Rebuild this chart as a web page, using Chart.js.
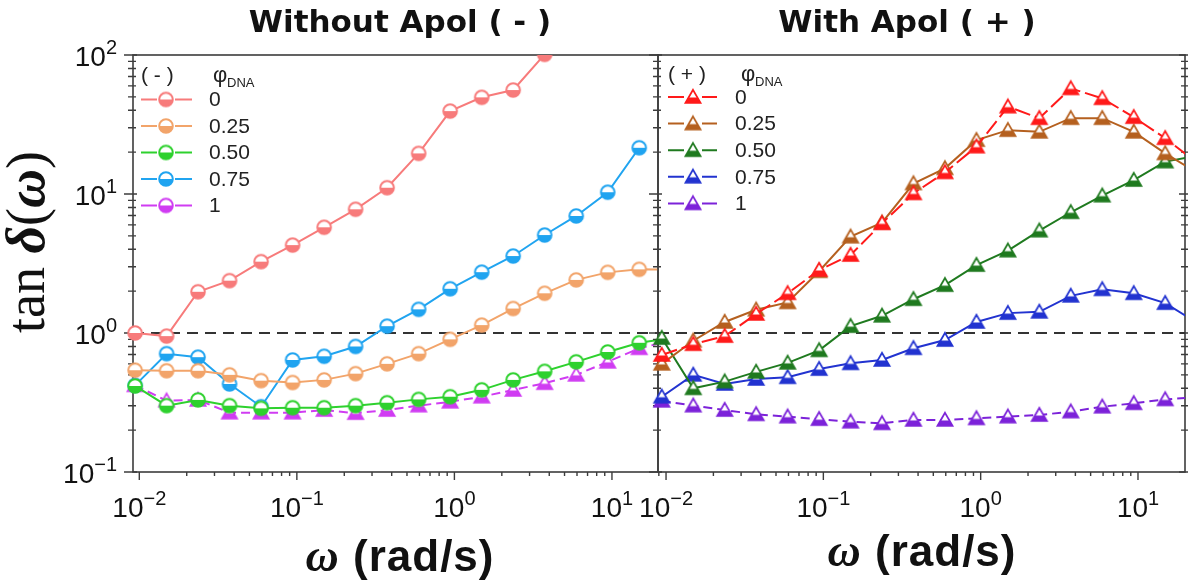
<!DOCTYPE html>
<html>
<head>
<meta charset="utf-8">
<script src="https://cdn.jsdelivr.net/npm/chart.js@4.4.1/dist/chart.umd.min.js"></script>
<style>
  html, body { margin: 0; padding: 0; background: #fff; }
  #wrap { position: relative; width: 1188px; height: 588px; overflow: hidden; background: #fff; }
  canvas { position: absolute; top: 0; }
  #cLeft { left: 0; }
  #cRight { left: 600px; }
</style>
</head>
<body>
<div id="wrap">
  <canvas id="cLeft" width="660" height="588"></canvas>
  <canvas id="cRight" width="588" height="588"></canvas>
</div>
<script>
// angular frequency (rad/s), shared by every series
const omega = [0.0094, 0.0149, 0.0236, 0.0374, 0.0593, 0.094, 0.149, 0.236, 0.374, 0.593,
               0.94, 1.49, 2.36, 3.74, 5.93, 9.4, 14.9, 23.6];
const phiLabels = ['0', '0.25', '0.50', '0.75', '1'];
const xPowers = [-2, -1, 0, 1];
const yPowers = [-1, 0, 1, 2];

// tan delta, without Apol (-)
const tanNo0   = [1.0, 0.95, 1.98, 2.38, 3.26, 4.29, 5.76, 7.76, 11.1, 19.6, 39.5, 49.6, 56, 101, 180];
const tanNo025 = [0.54, 0.535, 0.535, 0.50, 0.454, 0.44, 0.46, 0.51, 0.60, 0.71, 0.90, 1.14, 1.5, 1.93, 2.41, 2.73, 2.87, 2.85];
const tanNo050 = [0.416, 0.30, 0.33, 0.30, 0.287, 0.29, 0.29, 0.30, 0.315, 0.333, 0.348, 0.39, 0.46, 0.53, 0.62, 0.73, 0.85, 0.92];
const tanNo075 = [0.42, 0.71, 0.67, 0.43, 0.295, 0.64, 0.68, 0.80, 1.12, 1.48, 2.08, 2.74, 3.58, 5.07, 6.95, 10.3, 21.5];
const tanNo1   = [0.42, 0.326, 0.33, 0.267, 0.267, 0.267, 0.279, 0.265, 0.279, 0.30, 0.32, 0.348, 0.389, 0.435, 0.50, 0.62, 0.776, 0.88];

// tan delta, with Apol (+)
const tanApo0   = [0.695, 0.83, 0.95, 1.37, 1.93, 2.84, 3.64, 6.15, 10.1, 14.3, 21.9, 42.5, 35.1, 57.5, 48.8, 35.7, 25.2, 16.8];
const tanApo025 = [0.60, 0.88, 1.20, 1.47, 1.66, 2.78, 4.93, 6.22, 11.9, 15.3, 24.4, 28.8, 28.0, 35.1, 35.1, 28.0, 19.6, 14.3];
const tanApo050 = [0.92, 0.40, 0.447, 0.525, 0.61, 0.75, 1.12, 1.33, 1.75, 2.21, 3.08, 3.91, 5.45, 7.39, 9.73, 12.6, 17.1, 18.8];
const tanApo075 = [0.348, 0.50, 0.43, 0.467, 0.48, 0.55, 0.605, 0.64, 0.776, 0.89, 1.2, 1.39, 1.42, 1.85, 2.06, 1.93, 1.64, 1.19];
const tanApo1   = [0.325, 0.30, 0.279, 0.26, 0.25, 0.24, 0.23, 0.224, 0.237, 0.237, 0.243, 0.25, 0.257, 0.272, 0.295, 0.312, 0.333, 0.345];

const colorsNo  = ['#f77b7b', '#f2a46a', '#2ed12e', '#20a4f0', '#d03cf2'];
const colorsApo = ['#ff1a1a', '#b5601f', '#1f7a1f', '#2233d0', '#7c22d9'];

const SANS = '"Liberation Sans", Arial, sans-serif';
const SERIF = '"Liberation Serif", "Times New Roman", serif';

// half-filled symbols (open top, filled bottom)
function halfCircle(color) {
  const r = 6.8, s = 18, m = s / 2;
  const c = document.createElement('canvas');
  c.width = c.height = s;
  const g = c.getContext('2d');
  g.beginPath(); g.arc(m, m, r, 0, Math.PI * 2); g.fillStyle = '#fff'; g.fill();
  g.save(); g.beginPath(); g.rect(0, m, s, s); g.clip();
  g.beginPath(); g.arc(m, m, r, 0, Math.PI * 2); g.fillStyle = color; g.fill();
  g.restore();
  g.beginPath(); g.arc(m, m, r, 0, Math.PI * 2); g.lineWidth = 2; g.strokeStyle = color; g.stroke();
  return c;
}
function halfTriangle(color) {
  const s = 20, m = s / 2, w = 15, h = 13;
  const top = m - h * 0.55, bot = m + h * 0.45;
  const c = document.createElement('canvas');
  c.width = c.height = s;
  const g = c.getContext('2d');
  const path = () => { g.beginPath(); g.moveTo(m, top); g.lineTo(m + w / 2, bot); g.lineTo(m - w / 2, bot); g.closePath(); };
  path(); g.fillStyle = '#fff'; g.fill();
  g.save(); g.beginPath(); g.rect(0, bot - h * 0.42, s, s); g.clip();
  path(); g.fillStyle = color; g.fill();
  g.restore();
  path(); g.lineWidth = 1.8; g.lineJoin = 'miter'; g.strokeStyle = color; g.stroke();
  return c;
}

function series(vals, label, color, marker, legendMarker, dash) {
  return {
    label: label,
    data: vals.map((v, i) => ({ x: omega[i], y: v })),
    borderColor: color,
    backgroundColor: color,
    borderWidth: 2,
    borderDash: dash || [],
    pointStyle: marker,
    pointRadius: 7,
    pointHoverRadius: 7,
    legendMarker: legendMarker,
    clip: { left: 10, top: 0, right: 0, bottom: 0 }
  };
}
function refLine(xMin, xMax) {
  return {
    label: 'ref',
    isRef: true,
    data: [{ x: xMin, y: 1 }, { x: xMax, y: 1 }],
    borderColor: '#333',
    borderWidth: 2,
    borderDash: [11, 7],
    pointRadius: 0
  };
}

function powLabel(ctx, exp, x, y, align) {
  const base = '10', sup = exp < 0 ? '\u2212' + (-exp) : String(exp);
  ctx.font = '28px ' + SANS; const wb = ctx.measureText(base).width;
  ctx.font = '20px ' + SANS; const ws = ctx.measureText(sup).width;
  const x0 = align === 'right' ? x - wb - ws : x - (wb + ws) / 2;
  ctx.textAlign = 'left'; ctx.textBaseline = 'alphabetic';
  ctx.font = '28px ' + SANS; ctx.fillText(base, x0, y);
  ctx.font = '20px ' + SANS; ctx.fillText(sup, x0 + wb, y - 12);
}

function logTicks(scale, fn) {
  for (let e = -3; e <= 3; e++) {
    for (let k = 1; k <= 9; k++) {
      const v = k * Math.pow(10, e);
      if (v < scale.min * 0.9999 || v > scale.max * 1.0001) continue;
      fn(scale.getPixelForValue(v), k === 1, e);
    }
  }
}

// mixed-font text run, pieces = [[text, font], ...]
function runWidth(ctx, pieces) {
  let w = 0;
  pieces.forEach(p => { ctx.font = p[1]; w += ctx.measureText(p[0]).width; });
  return w;
}
function drawRun(ctx, pieces, x, y) {
  pieces.forEach(p => { ctx.font = p[1]; ctx.fillText(p[0], x, y); x += ctx.measureText(p[0]).width; });
}

const frame = {
  id: 'frame',
  beforeDatasetsDraw(chart, args, o) {
    const ctx = chart.ctx, a = chart.chartArea;
    ctx.save();
    ctx.strokeStyle = '#3c3c3c';
    ctx.lineWidth = 1.6;
    ctx.strokeRect(a.left, a.top, a.right - a.left, a.bottom - a.top);
    ctx.lineWidth = 1.4;
    ctx.beginPath();
    logTicks(chart.scales.x, (px, major) => {
      ctx.moveTo(px, a.bottom); ctx.lineTo(px, a.bottom + (major ? 8 : 4));
    });
    logTicks(chart.scales.y, (py, major) => {
      ctx.moveTo(a.left - (major ? 9 : 5), py); ctx.lineTo(a.left + (major ? 4 : 3), py);
      if (o.rightTicks) { ctx.moveTo(a.right - (major ? 6 : 4), py); ctx.lineTo(a.right + 3, py); }
    });
    ctx.stroke();
    ctx.restore();
  },
  afterDraw(chart, args, o) {
    const ctx = chart.ctx, a = chart.chartArea;
    ctx.save();
    ctx.fillStyle = '#111';
    // tick labels
    xPowers.forEach(e => powLabel(ctx, e, chart.scales.x.getPixelForValue(Math.pow(10, e)), a.bottom + 45, 'center'));
    if (o.yLabels) {
      yPowers.forEach(e => powLabel(ctx, e, a.left - 16, chart.scales.y.getPixelForValue(Math.pow(10, e)) + 11, 'right'));
    }
    // panel title
    ctx.font = 'bold 31px "DejaVu Sans", sans-serif';
    ctx.textAlign = 'center'; ctx.textBaseline = 'alphabetic';
    ctx.fillText(o.title, o.titleX, 32);
    ctx.letterSpacing = '1px';
    ctx.textAlign = 'left';
    // x axis title
    const xt = [['\u03c9', 'bold italic 46px ' + SERIF], [' (rad/s)', 'bold 44px ' + SANS]];
    drawRun(ctx, xt, o.xTitleX - runWidth(ctx, xt) / 2, o.xTitleY);
    ctx.letterSpacing = '0px';
    // y axis title
    if (o.yTitle) {
      const yt = [['tan ', '54px ' + SERIF], ['\u03b4', 'bold italic 54px ' + SERIF], ['(', '54px ' + SERIF],
                  ['\u03c9', 'bold italic 54px ' + SERIF], [')', '54px ' + SERIF]];
      ctx.translate(44, 242);
      ctx.rotate(-Math.PI / 2);
      drawRun(ctx, yt, -runWidth(ctx, yt) / 2, 0);
      ctx.setTransform(1, 0, 0, 1, 0, 0);
    }
    // legend
    const L = o.legend;
    ctx.fillStyle = '#222';
    ctx.font = '21px ' + SANS;
    ctx.fillText(L.head, L.headX, L.headY);
    ctx.font = '22px ' + SANS;
    ctx.fillText('\u03c6', L.phiX, L.headY);
    ctx.font = '13px ' + SANS;
    ctx.fillText('DNA', L.phiX + 14, L.headY + 5);
    ctx.textBaseline = 'middle';
    chart.data.datasets.filter(d => !d.isRef).forEach((d, i) => {
      const y = L.y0 + i * L.dy;
      ctx.strokeStyle = d.borderColor; ctx.lineWidth = 2;
      ctx.beginPath();
      ctx.moveTo(L.lineX1, y); ctx.lineTo(L.markX - 9, y);
      ctx.moveTo(L.markX + 9, y); ctx.lineTo(L.lineX2, y);
      ctx.stroke();
      const img = d.legendMarker;
      ctx.drawImage(img, L.markX - img.width / 2, y - img.height / 2);
      ctx.fillStyle = '#222';
      ctx.font = '21px ' + SANS;
      ctx.fillText(d.label, L.labelX, y + 1);
    });
    ctx.restore();
  }
};

function makeChart(id, datasets, xMin, xMax, padding, opts) {
  datasets.push(refLine(xMin, xMax));
  return new Chart(document.getElementById(id), {
    type: 'line',
    data: { datasets: datasets },
    options: {
      responsive: false,
      animation: false,
      events: [],
      layout: { padding: padding, autoPadding: false },
      scales: {
        x: { type: 'logarithmic', min: xMin, max: xMax, display: false },
        y: { type: 'logarithmic', min: 0.1, max: 100, display: false }
      },
      plugins: { legend: { display: false }, tooltip: { enabled: false }, frame: opts }
    },
    plugins: [frame]
  });
}

// Without Apol (-): circles, the phi = 1 curve plotted with triangles
const noVals = [tanNo0, tanNo025, tanNo050, tanNo075, tanNo1];
const noSets = noVals.map((v, i) => series(v, phiLabels[i], colorsNo[i],
  i === 4 ? halfTriangle(colorsNo[i]) : halfCircle(colorsNo[i]),
  halfCircle(colorsNo[i]), i === 4 ? [9, 5] : null));
makeChart('cLeft', noSets, 0.00912, 19.6, { left: 133, right: 2, top: 55, bottom: 116 }, {
  title: 'Without Apol ( - )', titleX: 400, xTitleX: 400, xTitleY: 571,
  yLabels: true, yTitle: true, rightTicks: false,
  legend: { head: '( - )', headX: 141, headY: 82, phiX: 213, y0: 99.5, dy: 26.5,
            lineX1: 141, lineX2: 192, markX: 166, labelX: 209 }
});

// With Apol (+): triangles
const apoVals = [tanApo0, tanApo025, tanApo050, tanApo075, tanApo1];
const apoDash = [[16, 5], null, null, null, [9, 5]];
const apoSets = apoVals.map((v, i) => series(v, phiLabels[i], colorsApo[i],
  halfTriangle(colorsApo[i]), halfTriangle(colorsApo[i]), apoDash[i]));
makeChart('cRight', apoSets, 0.00889, 19.9, { left: 58, right: 3, top: 55, bottom: 116 }, {
  title: 'With Apol ( + )', titleX: 307, xTitleX: 322, xTitleY: 566,
  yLabels: false, yTitle: false, rightTicks: true,
  legend: { head: '( + )', headX: 68, headY: 81, phiX: 141, y0: 97, dy: 26.6,
            lineX1: 68, lineX2: 117, markX: 93, labelX: 135 }
});
</script>
</body>
</html>
